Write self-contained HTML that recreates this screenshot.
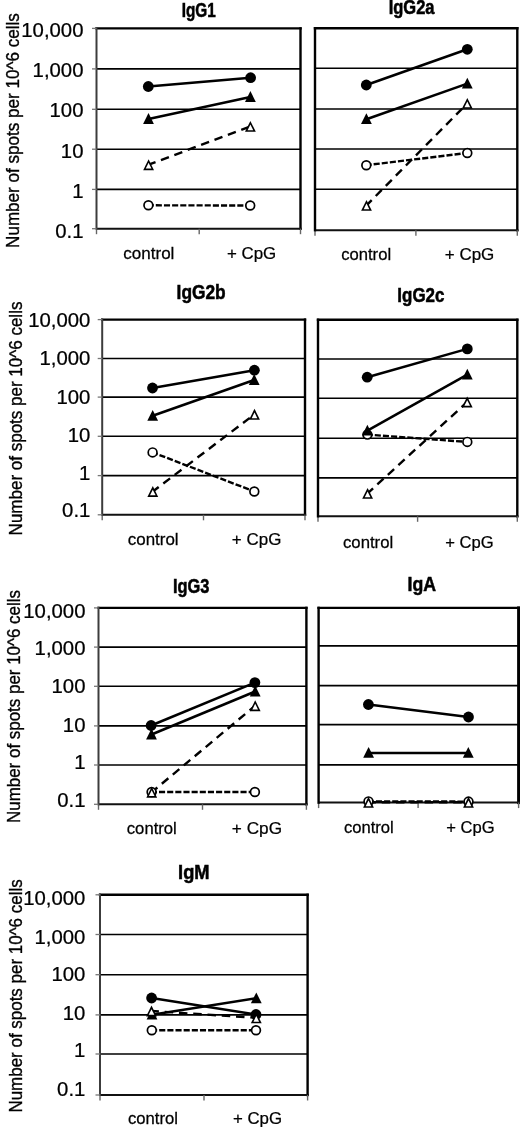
<!DOCTYPE html>
<html><head><meta charset="utf-8"><style>
html,body{margin:0;padding:0;background:#fff;width:520px;height:1128px;overflow:hidden}
svg{display:block;filter:grayscale(1)}
text{font-family:"Liberation Sans",sans-serif}
</style></head><body>
<svg width="520" height="1128" viewBox="0 0 520 1128">
<rect width="520" height="1128" fill="#fff"/>
<g stroke="#000" fill="#000" stroke-width="0">
<line x1="96.50" y1="68.90" x2="300.50" y2="68.90" stroke-width="1.60"/>
<line x1="96.50" y1="109.30" x2="300.50" y2="109.30" stroke-width="1.60"/>
<line x1="96.50" y1="149.20" x2="300.50" y2="149.20" stroke-width="1.60"/>
<line x1="96.50" y1="189.40" x2="300.50" y2="189.40" stroke-width="1.60"/>
<line x1="96.50" y1="28.40" x2="300.50" y2="28.40" stroke-width="2.40" stroke-linecap="square"/>
<line x1="300.50" y1="28.40" x2="300.50" y2="228.70" stroke-width="2.40" stroke-linecap="square"/>
<line x1="96.50" y1="228.70" x2="301.70" y2="228.70" stroke="#111" stroke-width="2.0"/>
<line x1="96.50" y1="228.70" x2="96.50" y2="234.20" stroke="#666" stroke-width="1.4"/>
<line x1="199.20" y1="228.70" x2="199.20" y2="234.20" stroke="#666" stroke-width="1.4"/>
<line x1="300.50" y1="228.70" x2="300.50" y2="234.20" stroke="#666" stroke-width="1.4"/>
<line x1="96.50" y1="27.20" x2="96.50" y2="229.70" stroke="#3c3c3c" stroke-width="2.0"/>
<line x1="92.00" y1="28.40" x2="96.50" y2="28.40" stroke="#777" stroke-width="1.3"/>
<line x1="92.00" y1="68.90" x2="96.50" y2="68.90" stroke="#777" stroke-width="1.3"/>
<line x1="92.00" y1="109.30" x2="96.50" y2="109.30" stroke="#777" stroke-width="1.3"/>
<line x1="92.00" y1="149.20" x2="96.50" y2="149.20" stroke="#777" stroke-width="1.3"/>
<line x1="92.00" y1="189.40" x2="96.50" y2="189.40" stroke="#777" stroke-width="1.3"/>
<line x1="92.00" y1="228.70" x2="96.50" y2="228.70" stroke="#777" stroke-width="1.3"/>
<line x1="148.30" y1="86.50" x2="250.60" y2="77.70" stroke-width="2.50"/>
<line x1="148.50" y1="119.00" x2="250.40" y2="97.00" stroke-width="2.50"/>
<line x1="148.40" y1="205.30" x2="250.20" y2="205.50" stroke-width="2.40" stroke-dasharray="6.1 2.05" stroke-dashoffset="0.75"/>
<line x1="148.60" y1="164.70" x2="250.40" y2="126.40" stroke-width="2.40" stroke-dasharray="8.5 5.8" stroke-dashoffset="1.1"/>
<circle cx="148.40" cy="205.30" r="4.40" fill="#fff" stroke-width="1.70"/>
<circle cx="250.20" cy="205.50" r="4.40" fill="#fff" stroke-width="1.70"/>
<circle cx="148.30" cy="86.50" r="5.40" stroke="none"/>
<circle cx="250.60" cy="77.70" r="5.40" stroke="none"/>
<polygon points="148.50,113.10 153.90,123.90 143.10,123.90"/>
<polygon points="250.40,91.10 255.80,101.90 245.00,101.90"/>
<polygon points="148.60,159.25 154.00,170.15 143.20,170.15"/><polygon points="148.60,162.85 151.42,168.55 145.78,168.55" fill="#fff"/>
<polygon points="250.40,120.95 255.80,131.85 245.00,131.85"/><polygon points="250.40,124.55 253.22,130.25 247.58,130.25" fill="#fff"/>
<text font-size="20.349" font-weight="bold" stroke-width="0.546" transform="translate(181.675,17.400) scale(0.7529,1)">IgG1</text>
<text font-size="16.699" stroke-width="0.253" transform="translate(123.276,258.800) scale(1.0208,1)">control</text>
<text font-size="17.373" stroke-width="0.246" transform="translate(226.975,258.800) scale(0.9723,1)">+ CpG</text>
<text font-size="20.132" stroke-width="0.246" transform="translate(21.293,36.530) scale(1.0102,1)">10,000</text>
<text font-size="20.132" stroke-width="0.246" transform="translate(32.603,77.330) scale(1.0102,1)">1,000</text>
<text font-size="20.132" stroke-width="0.246" transform="translate(49.564,117.330) scale(1.0102,1)">100</text>
<text font-size="20.132" stroke-width="0.246" transform="translate(60.874,157.930) scale(1.0102,1)">10</text>
<text font-size="20.132" stroke-width="0.246" transform="translate(72.184,197.930) scale(1.0102,1)">1</text>
<text font-size="20.132" stroke-width="0.246" transform="translate(55.224,237.530) scale(1.0102,1)">0.1</text>
<text font-size="18.024" stroke-width="0.352" transform="translate(18.600,247.900) rotate(-90) scale(0.9469,1)">Number of spots per 10^6 cells</text>
<line x1="315.00" y1="68.30" x2="517.30" y2="68.30" stroke-width="1.60"/>
<line x1="315.00" y1="109.00" x2="517.30" y2="109.00" stroke-width="1.60"/>
<line x1="315.00" y1="149.00" x2="517.30" y2="149.00" stroke-width="1.60"/>
<line x1="315.00" y1="189.20" x2="517.30" y2="189.20" stroke-width="1.60"/>
<line x1="315.00" y1="28.20" x2="517.30" y2="28.20" stroke-width="2.40" stroke-linecap="square"/>
<line x1="517.30" y1="28.20" x2="517.30" y2="230.20" stroke-width="2.40" stroke-linecap="square"/>
<line x1="315.00" y1="230.20" x2="518.50" y2="230.20" stroke="#111" stroke-width="2.0"/>
<line x1="315.00" y1="230.20" x2="315.00" y2="235.70" stroke="#666" stroke-width="1.4"/>
<line x1="415.90" y1="230.20" x2="415.90" y2="235.70" stroke="#666" stroke-width="1.4"/>
<line x1="517.30" y1="230.20" x2="517.30" y2="235.70" stroke="#666" stroke-width="1.4"/>
<line x1="315.00" y1="28.20" x2="315.00" y2="230.20" stroke-width="2.40" stroke-linecap="square"/>
<line x1="366.30" y1="85.00" x2="467.30" y2="49.30" stroke-width="2.50"/>
<line x1="366.40" y1="119.20" x2="467.30" y2="83.60" stroke-width="2.50"/>
<line x1="366.30" y1="165.20" x2="467.30" y2="153.00" stroke-width="2.40" stroke-dasharray="6.1 2.05" stroke-dashoffset="0.75"/>
<line x1="366.50" y1="205.40" x2="467.30" y2="103.40" stroke-width="2.40" stroke-dasharray="8.5 5.8" stroke-dashoffset="1.1"/>
<circle cx="366.30" cy="165.20" r="4.40" fill="#fff" stroke-width="1.70"/>
<circle cx="467.30" cy="153.00" r="4.40" fill="#fff" stroke-width="1.70"/>
<circle cx="366.30" cy="85.00" r="5.40" stroke="none"/>
<circle cx="467.30" cy="49.30" r="5.40" stroke="none"/>
<polygon points="366.40,113.30 371.80,124.10 361.00,124.10"/>
<polygon points="467.30,77.70 472.70,88.50 461.90,88.50"/>
<polygon points="366.50,199.95 371.90,210.85 361.10,210.85"/><polygon points="366.50,203.55 369.32,209.25 363.68,209.25" fill="#fff"/>
<polygon points="467.30,97.95 472.70,108.85 461.90,108.85"/><polygon points="467.30,101.55 470.12,107.25 464.48,107.25" fill="#fff"/>
<text font-size="20.349" font-weight="bold" stroke-width="0.546" transform="translate(388.695,13.800) scale(0.8117,1)">IgG2a</text>
<text font-size="16.699" stroke-width="0.253" transform="translate(341.193,259.750) scale(0.9960,1)">control</text>
<text font-size="17.373" stroke-width="0.246" transform="translate(444.770,259.750) scale(0.9784,1)">+ CpG</text>
<line x1="102.20" y1="358.50" x2="305.00" y2="358.50" stroke-width="1.60"/>
<line x1="102.20" y1="397.10" x2="305.00" y2="397.10" stroke-width="1.60"/>
<line x1="102.20" y1="436.30" x2="305.00" y2="436.30" stroke-width="1.60"/>
<line x1="102.20" y1="475.60" x2="305.00" y2="475.60" stroke-width="1.60"/>
<line x1="102.20" y1="319.60" x2="305.00" y2="319.60" stroke-width="2.40" stroke-linecap="square"/>
<line x1="305.00" y1="319.60" x2="305.00" y2="514.80" stroke-width="2.40" stroke-linecap="square"/>
<line x1="102.20" y1="514.80" x2="306.20" y2="514.80" stroke="#111" stroke-width="2.0"/>
<line x1="102.20" y1="514.80" x2="102.20" y2="520.30" stroke="#666" stroke-width="1.4"/>
<line x1="203.50" y1="514.80" x2="203.50" y2="520.30" stroke="#666" stroke-width="1.4"/>
<line x1="305.00" y1="514.80" x2="305.00" y2="520.30" stroke="#666" stroke-width="1.4"/>
<line x1="102.20" y1="318.40" x2="102.20" y2="515.80" stroke="#3c3c3c" stroke-width="2.0"/>
<line x1="97.70" y1="319.60" x2="102.20" y2="319.60" stroke="#777" stroke-width="1.3"/>
<line x1="97.70" y1="358.50" x2="102.20" y2="358.50" stroke="#777" stroke-width="1.3"/>
<line x1="97.70" y1="397.10" x2="102.20" y2="397.10" stroke="#777" stroke-width="1.3"/>
<line x1="97.70" y1="436.30" x2="102.20" y2="436.30" stroke="#777" stroke-width="1.3"/>
<line x1="97.70" y1="475.60" x2="102.20" y2="475.60" stroke="#777" stroke-width="1.3"/>
<line x1="97.70" y1="514.80" x2="102.20" y2="514.80" stroke="#777" stroke-width="1.3"/>
<line x1="152.50" y1="388.00" x2="254.40" y2="370.20" stroke-width="2.50"/>
<line x1="152.70" y1="415.80" x2="254.20" y2="380.00" stroke-width="2.50"/>
<line x1="152.60" y1="452.40" x2="254.30" y2="491.50" stroke-width="2.40" stroke-dasharray="6.1 2.05" stroke-dashoffset="0.75"/>
<line x1="152.80" y1="491.50" x2="254.50" y2="414.30" stroke-width="2.40" stroke-dasharray="8.5 5.8" stroke-dashoffset="1.1"/>
<circle cx="152.60" cy="452.40" r="4.40" fill="#fff" stroke-width="1.70"/>
<circle cx="254.30" cy="491.50" r="4.40" fill="#fff" stroke-width="1.70"/>
<circle cx="152.50" cy="388.00" r="5.40" stroke="none"/>
<circle cx="254.40" cy="370.20" r="5.40" stroke="none"/>
<polygon points="152.70,409.90 158.10,420.70 147.30,420.70"/>
<polygon points="254.20,374.10 259.60,384.90 248.80,384.90"/>
<polygon points="152.80,486.05 158.20,496.95 147.40,496.95"/><polygon points="152.80,489.65 155.62,495.35 149.98,495.35" fill="#fff"/>
<polygon points="254.50,408.85 259.90,419.75 249.10,419.75"/><polygon points="254.50,412.45 257.32,418.15 251.68,418.15" fill="#fff"/>
<text font-size="20.349" font-weight="bold" stroke-width="0.546" transform="translate(176.590,299.400) scale(0.8519,1)">IgG2b</text>
<text font-size="16.699" stroke-width="0.253" transform="translate(127.780,544.800) scale(1.0146,1)">control</text>
<text font-size="17.373" stroke-width="0.246" transform="translate(231.872,544.800) scale(0.9764,1)">+ CpG</text>
<text font-size="20.132" stroke-width="0.246" transform="translate(28.193,326.730) scale(1.0102,1)">10,000</text>
<text font-size="20.132" stroke-width="0.246" transform="translate(39.503,364.730) scale(1.0102,1)">1,000</text>
<text font-size="20.132" stroke-width="0.246" transform="translate(56.464,403.730) scale(1.0102,1)">100</text>
<text font-size="20.132" stroke-width="0.246" transform="translate(67.774,442.430) scale(1.0102,1)">10</text>
<text font-size="20.132" stroke-width="0.246" transform="translate(79.084,479.830) scale(1.0102,1)">1</text>
<text font-size="20.132" stroke-width="0.246" transform="translate(62.124,517.130) scale(1.0102,1)">0.1</text>
<text font-size="18.024" stroke-width="0.352" transform="translate(21.900,535.395) rotate(-90) scale(0.9436,1)">Number of spots per 10^6 cells</text>
<line x1="318.00" y1="359.00" x2="517.30" y2="359.00" stroke-width="1.60"/>
<line x1="318.00" y1="398.20" x2="517.30" y2="398.20" stroke-width="1.60"/>
<line x1="318.00" y1="438.30" x2="517.30" y2="438.30" stroke-width="1.60"/>
<line x1="318.00" y1="477.90" x2="517.30" y2="477.90" stroke-width="1.60"/>
<line x1="318.00" y1="319.80" x2="517.30" y2="319.80" stroke-width="2.40" stroke-linecap="square"/>
<line x1="517.30" y1="319.80" x2="517.30" y2="516.30" stroke-width="2.40" stroke-linecap="square"/>
<line x1="318.00" y1="516.30" x2="518.50" y2="516.30" stroke="#111" stroke-width="2.0"/>
<line x1="318.00" y1="516.30" x2="318.00" y2="521.80" stroke="#666" stroke-width="1.4"/>
<line x1="417.60" y1="516.30" x2="417.60" y2="521.80" stroke="#666" stroke-width="1.4"/>
<line x1="517.30" y1="516.30" x2="517.30" y2="521.80" stroke="#666" stroke-width="1.4"/>
<line x1="318.00" y1="319.80" x2="318.00" y2="516.30" stroke-width="2.40" stroke-linecap="square"/>
<line x1="367.20" y1="377.20" x2="467.30" y2="348.90" stroke-width="2.50"/>
<line x1="367.40" y1="430.70" x2="467.30" y2="374.70" stroke-width="2.50"/>
<line x1="367.40" y1="434.60" x2="467.30" y2="441.90" stroke-width="2.40" stroke-dasharray="6.1 2.05" stroke-dashoffset="0.75"/>
<line x1="367.60" y1="493.40" x2="467.20" y2="402.00" stroke-width="2.40" stroke-dasharray="8.5 5.8" stroke-dashoffset="1.1"/>
<circle cx="367.40" cy="434.60" r="4.40" fill="#fff" stroke-width="1.70"/>
<circle cx="467.30" cy="441.90" r="4.40" fill="#fff" stroke-width="1.70"/>
<circle cx="367.20" cy="377.20" r="5.40" stroke="none"/>
<circle cx="467.30" cy="348.90" r="5.40" stroke="none"/>
<polygon points="367.40,424.80 372.80,435.60 362.00,435.60"/>
<polygon points="467.30,368.80 472.70,379.60 461.90,379.60"/>
<polygon points="367.60,487.95 373.00,498.85 362.20,498.85"/><polygon points="367.60,491.55 370.42,497.25 364.78,497.25" fill="#fff"/>
<polygon points="467.20,396.55 472.60,407.45 461.80,407.45"/><polygon points="467.20,400.15 470.02,405.85 464.38,405.85" fill="#fff"/>
<text font-size="20.349" font-weight="bold" stroke-width="0.546" transform="translate(397.365,301.500) scale(0.8335,1)">IgG2c</text>
<text font-size="16.699" stroke-width="0.253" transform="translate(342.989,547.500) scale(1.0022,1)">control</text>
<text font-size="17.373" stroke-width="0.246" transform="translate(445.189,547.500) scale(0.9558,1)">+ CpG</text>
<line x1="98.50" y1="647.10" x2="306.40" y2="647.10" stroke-width="1.60"/>
<line x1="98.50" y1="686.30" x2="306.40" y2="686.30" stroke-width="1.60"/>
<line x1="98.50" y1="725.90" x2="306.40" y2="725.90" stroke-width="1.60"/>
<line x1="98.50" y1="765.00" x2="306.40" y2="765.00" stroke-width="1.60"/>
<line x1="98.50" y1="607.90" x2="306.40" y2="607.90" stroke-width="2.40" stroke-linecap="square"/>
<line x1="306.40" y1="607.90" x2="306.40" y2="804.30" stroke-width="2.40" stroke-linecap="square"/>
<line x1="98.50" y1="804.30" x2="307.60" y2="804.30" stroke="#111" stroke-width="2.0"/>
<line x1="98.50" y1="804.30" x2="98.50" y2="809.80" stroke="#666" stroke-width="1.4"/>
<line x1="202.50" y1="804.30" x2="202.50" y2="809.80" stroke="#666" stroke-width="1.4"/>
<line x1="306.40" y1="804.30" x2="306.40" y2="809.80" stroke="#666" stroke-width="1.4"/>
<line x1="98.50" y1="606.70" x2="98.50" y2="805.30" stroke="#3c3c3c" stroke-width="2.0"/>
<line x1="94.00" y1="607.90" x2="98.50" y2="607.90" stroke="#777" stroke-width="1.3"/>
<line x1="94.00" y1="647.10" x2="98.50" y2="647.10" stroke="#777" stroke-width="1.3"/>
<line x1="94.00" y1="686.30" x2="98.50" y2="686.30" stroke="#777" stroke-width="1.3"/>
<line x1="94.00" y1="725.90" x2="98.50" y2="725.90" stroke="#777" stroke-width="1.3"/>
<line x1="94.00" y1="765.00" x2="98.50" y2="765.00" stroke="#777" stroke-width="1.3"/>
<line x1="94.00" y1="804.30" x2="98.50" y2="804.30" stroke="#777" stroke-width="1.3"/>
<line x1="151.10" y1="725.50" x2="254.90" y2="682.60" stroke-width="2.50"/>
<line x1="151.50" y1="734.50" x2="255.20" y2="691.50" stroke-width="2.50"/>
<line x1="151.60" y1="792.00" x2="254.90" y2="792.00" stroke-width="2.40" stroke-dasharray="6.1 2.05" stroke-dashoffset="0.75"/>
<line x1="151.70" y1="792.20" x2="255.20" y2="705.70" stroke-width="2.40" stroke-dasharray="8.5 5.8" stroke-dashoffset="1.1"/>
<circle cx="151.60" cy="792.00" r="4.40" fill="#fff" stroke-width="1.70"/>
<circle cx="254.90" cy="792.00" r="4.40" fill="#fff" stroke-width="1.70"/>
<circle cx="151.10" cy="725.50" r="5.40" stroke="none"/>
<circle cx="254.90" cy="682.60" r="5.40" stroke="none"/>
<polygon points="151.50,728.60 156.90,739.40 146.10,739.40"/>
<polygon points="255.20,685.60 260.60,696.40 249.80,696.40"/>
<polygon points="151.70,786.75 157.10,797.65 146.30,797.65"/><polygon points="151.70,790.35 154.52,796.05 148.88,796.05" fill="#fff"/>
<polygon points="255.20,700.25 260.60,711.15 249.80,711.15"/><polygon points="255.20,703.85 258.02,709.55 252.38,709.55" fill="#fff"/>
<text font-size="20.349" font-weight="bold" stroke-width="0.546" transform="translate(172.903,592.750) scale(0.8057,1)">IgG3</text>
<text font-size="16.699" stroke-width="0.253" transform="translate(126.792,833.500) scale(0.9981,1)">control</text>
<text font-size="17.373" stroke-width="0.246" transform="translate(231.860,833.500) scale(0.9908,1)">+ CpG</text>
<text font-size="20.132" stroke-width="0.246" transform="translate(23.293,617.530) scale(1.0102,1)">10,000</text>
<text font-size="20.132" stroke-width="0.246" transform="translate(34.603,654.730) scale(1.0102,1)">1,000</text>
<text font-size="20.132" stroke-width="0.246" transform="translate(51.564,693.430) scale(1.0102,1)">100</text>
<text font-size="20.132" stroke-width="0.246" transform="translate(62.874,731.730) scale(1.0102,1)">10</text>
<text font-size="20.132" stroke-width="0.246" transform="translate(74.184,769.430) scale(1.0102,1)">1</text>
<text font-size="20.132" stroke-width="0.246" transform="translate(57.224,807.430) scale(1.0102,1)">0.1</text>
<text font-size="18.024" stroke-width="0.352" transform="translate(20.200,822.990) rotate(-90) scale(0.9404,1)">Number of spots per 10^6 cells</text>
<line x1="318.60" y1="645.90" x2="518.60" y2="645.90" stroke-width="1.60"/>
<line x1="318.60" y1="685.60" x2="518.60" y2="685.60" stroke-width="1.60"/>
<line x1="318.60" y1="724.60" x2="518.60" y2="724.60" stroke-width="1.60"/>
<line x1="318.60" y1="764.90" x2="518.60" y2="764.90" stroke-width="1.60"/>
<line x1="318.60" y1="607.90" x2="518.60" y2="607.90" stroke-width="2.40" stroke-linecap="square"/>
<line x1="518.60" y1="607.90" x2="518.60" y2="802.60" stroke-width="3.00" stroke-linecap="square"/>
<line x1="318.60" y1="802.60" x2="520.10" y2="802.60" stroke="#111" stroke-width="2.0"/>
<line x1="318.60" y1="802.60" x2="318.60" y2="808.10" stroke="#666" stroke-width="1.4"/>
<line x1="418.10" y1="802.60" x2="418.10" y2="808.10" stroke="#666" stroke-width="1.4"/>
<line x1="518.60" y1="802.60" x2="518.60" y2="808.10" stroke="#666" stroke-width="1.4"/>
<line x1="318.60" y1="607.90" x2="318.60" y2="802.60" stroke-width="2.40" stroke-linecap="square"/>
<line x1="368.40" y1="704.50" x2="468.50" y2="717.00" stroke-width="2.50"/>
<line x1="368.60" y1="752.90" x2="468.30" y2="752.90" stroke-width="2.50"/>
<line x1="368.50" y1="801.40" x2="468.50" y2="801.60" stroke-width="2.40" stroke-dasharray="6.1 2.05" stroke-dashoffset="0.75"/>
<line x1="368.50" y1="802.30" x2="468.50" y2="802.30" stroke-width="2.40" stroke-dasharray="8.5 5.8" stroke-dashoffset="1.1"/>
<circle cx="368.50" cy="801.40" r="4.40" fill="#fff" stroke-width="1.70"/>
<circle cx="468.50" cy="801.60" r="4.40" fill="#fff" stroke-width="1.70"/>
<circle cx="368.40" cy="704.50" r="5.40" stroke="none"/>
<circle cx="468.50" cy="717.00" r="5.40" stroke="none"/>
<polygon points="368.60,747.00 374.00,757.80 363.20,757.80"/>
<polygon points="468.30,747.00 473.70,757.80 462.90,757.80"/>
<polygon points="368.50,796.85 373.90,807.75 363.10,807.75"/><polygon points="368.50,800.45 371.32,806.15 365.68,806.15" fill="#fff"/>
<polygon points="468.50,796.85 473.90,807.75 463.10,807.75"/><polygon points="468.50,800.45 471.32,806.15 465.68,806.15" fill="#fff"/>
<text font-size="20.349" font-weight="bold" stroke-width="0.546" transform="translate(407.614,590.600) scale(0.8711,1)">IgA</text>
<text font-size="16.699" stroke-width="0.253" transform="translate(343.995,833.300) scale(0.9939,1)">control</text>
<text font-size="17.373" stroke-width="0.246" transform="translate(446.189,833.300) scale(0.9558,1)">+ CpG</text>
<line x1="100.00" y1="934.50" x2="307.60" y2="934.50" stroke-width="1.60"/>
<line x1="100.00" y1="974.70" x2="307.60" y2="974.70" stroke-width="1.60"/>
<line x1="100.00" y1="1014.90" x2="307.60" y2="1014.90" stroke-width="1.60"/>
<line x1="100.00" y1="1054.00" x2="307.60" y2="1054.00" stroke-width="1.60"/>
<line x1="100.00" y1="894.80" x2="307.60" y2="894.80" stroke-width="2.40" stroke-linecap="square"/>
<line x1="307.60" y1="894.80" x2="307.60" y2="1095.00" stroke-width="2.40" stroke-linecap="square"/>
<line x1="100.00" y1="1095.00" x2="308.80" y2="1095.00" stroke="#111" stroke-width="2.0"/>
<line x1="100.00" y1="1095.00" x2="100.00" y2="1100.50" stroke="#666" stroke-width="1.4"/>
<line x1="204.00" y1="1095.00" x2="204.00" y2="1100.50" stroke="#666" stroke-width="1.4"/>
<line x1="307.60" y1="1095.00" x2="307.60" y2="1100.50" stroke="#666" stroke-width="1.4"/>
<line x1="100.00" y1="893.60" x2="100.00" y2="1096.00" stroke="#3c3c3c" stroke-width="2.0"/>
<line x1="95.50" y1="894.80" x2="100.00" y2="894.80" stroke="#777" stroke-width="1.3"/>
<line x1="95.50" y1="934.50" x2="100.00" y2="934.50" stroke="#777" stroke-width="1.3"/>
<line x1="95.50" y1="974.70" x2="100.00" y2="974.70" stroke="#777" stroke-width="1.3"/>
<line x1="95.50" y1="1014.90" x2="100.00" y2="1014.90" stroke="#777" stroke-width="1.3"/>
<line x1="95.50" y1="1054.00" x2="100.00" y2="1054.00" stroke="#777" stroke-width="1.3"/>
<line x1="95.50" y1="1095.00" x2="100.00" y2="1095.00" stroke="#777" stroke-width="1.3"/>
<line x1="151.60" y1="998.00" x2="256.00" y2="1014.50" stroke-width="2.50"/>
<line x1="152.00" y1="1014.70" x2="256.30" y2="998.30" stroke-width="2.50"/>
<line x1="151.80" y1="1030.20" x2="256.00" y2="1030.20" stroke-width="2.40" stroke-dasharray="6.1 2.05" stroke-dashoffset="0.75"/>
<line x1="151.50" y1="1011.00" x2="256.30" y2="1017.80" stroke-width="2.40" stroke-dasharray="8.5 5.8" stroke-dashoffset="1.1"/>
<circle cx="151.80" cy="1030.20" r="4.40" fill="#fff" stroke-width="1.70"/>
<circle cx="256.00" cy="1030.20" r="4.40" fill="#fff" stroke-width="1.70"/>
<circle cx="151.60" cy="998.00" r="5.40" stroke="none"/>
<circle cx="256.00" cy="1014.50" r="5.40" stroke="none"/>
<polygon points="152.00,1008.80 157.40,1019.60 146.60,1019.60"/>
<polygon points="256.30,992.40 261.70,1003.20 250.90,1003.20"/>
<polygon points="151.50,1005.55 156.90,1016.45 146.10,1016.45"/><polygon points="151.50,1009.15 154.32,1014.85 148.68,1014.85" fill="#fff"/>
<polygon points="256.30,1012.35 261.70,1023.25 250.90,1023.25"/><polygon points="256.30,1015.95 259.12,1021.65 253.48,1021.65" fill="#fff"/>
<text font-size="20.349" font-weight="bold" stroke-width="0.546" transform="translate(178.074,879.300) scale(0.9006,1)">IgM</text>
<text font-size="16.699" stroke-width="0.253" transform="translate(127.992,1123.600) scale(0.9981,1)">control</text>
<text font-size="17.373" stroke-width="0.246" transform="translate(232.877,1123.600) scale(0.9702,1)">+ CpG</text>
<text font-size="20.132" stroke-width="0.246" transform="translate(23.193,905.230) scale(1.0102,1)">10,000</text>
<text font-size="20.132" stroke-width="0.246" transform="translate(34.503,943.930) scale(1.0102,1)">1,000</text>
<text font-size="20.132" stroke-width="0.246" transform="translate(51.464,981.430) scale(1.0102,1)">100</text>
<text font-size="20.132" stroke-width="0.246" transform="translate(62.774,1019.630) scale(1.0102,1)">10</text>
<text font-size="20.132" stroke-width="0.246" transform="translate(74.084,1057.130) scale(1.0102,1)">1</text>
<text font-size="20.132" stroke-width="0.246" transform="translate(57.124,1095.630) scale(1.0102,1)">0.1</text>
<text font-size="18.024" stroke-width="0.352" transform="translate(21.800,1112.592) rotate(-90) scale(0.9412,1)">Number of spots per 10^6 cells</text>
</g>
</svg>
</body></html>
